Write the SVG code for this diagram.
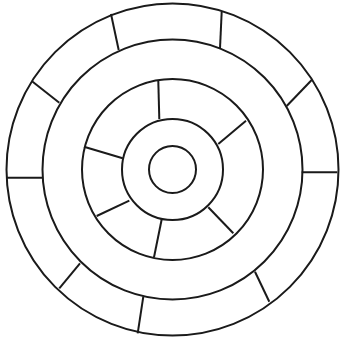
<svg xmlns="http://www.w3.org/2000/svg" width="341" height="342" viewBox="0 0 341 342">
<style>
.c{fill:none;stroke:#1a1a1a;stroke-width:2}
.d{stroke:#1a1a1a;stroke-width:2;stroke-linecap:butt}
</style>
<rect width="341" height="342" fill="#fff"/>
<g id="rings">
<circle id="ring1" class="c" cx="172.5" cy="169.5" r="166"/>
<circle id="ring2" class="c" cx="172.5" cy="169.5" r="130"/>
<circle id="ring3" class="c" cx="172.5" cy="169.5" r="90.5"/>
<circle id="ring4" class="c" cx="172.5" cy="169.5" r="50.5"/>
<circle id="ring5" class="c" cx="172.5" cy="169.5" r="23.5"/>
</g>
<g id="dividers">
<line class="d" x1="111" y1="14" x2="118.7" y2="50"/>
<line class="d" x1="221.7" y1="11.7" x2="220" y2="48.3"/>
<line class="d" x1="311.7" y1="80" x2="286.7" y2="106"/>
<line class="d" x1="301.7" y1="172.3" x2="337.3" y2="172.3"/>
<line class="d" x1="255" y1="271.7" x2="269.3" y2="301.7"/>
<line class="d" x1="143.3" y1="296.7" x2="137.7" y2="333.3"/>
<line class="d" x1="80" y1="263.3" x2="59.3" y2="288.3"/>
<line class="d" x1="6.7" y1="177.7" x2="42.7" y2="177.7"/>
<line class="d" x1="31.7" y1="81" x2="59.3" y2="102.7"/>
<line class="d" x1="158.3" y1="81" x2="159.3" y2="119"/>
<line class="d" x1="246" y1="120.7" x2="218.3" y2="144"/>
<line class="d" x1="208.3" y1="207.3" x2="233.3" y2="233.3"/>
<line class="d" x1="161.7" y1="219.3" x2="154" y2="257.3"/>
<line class="d" x1="129.3" y1="200.7" x2="96.7" y2="216"/>
<line class="d" x1="84" y1="146.7" x2="122.7" y2="158.3"/>
</g>
</svg>
